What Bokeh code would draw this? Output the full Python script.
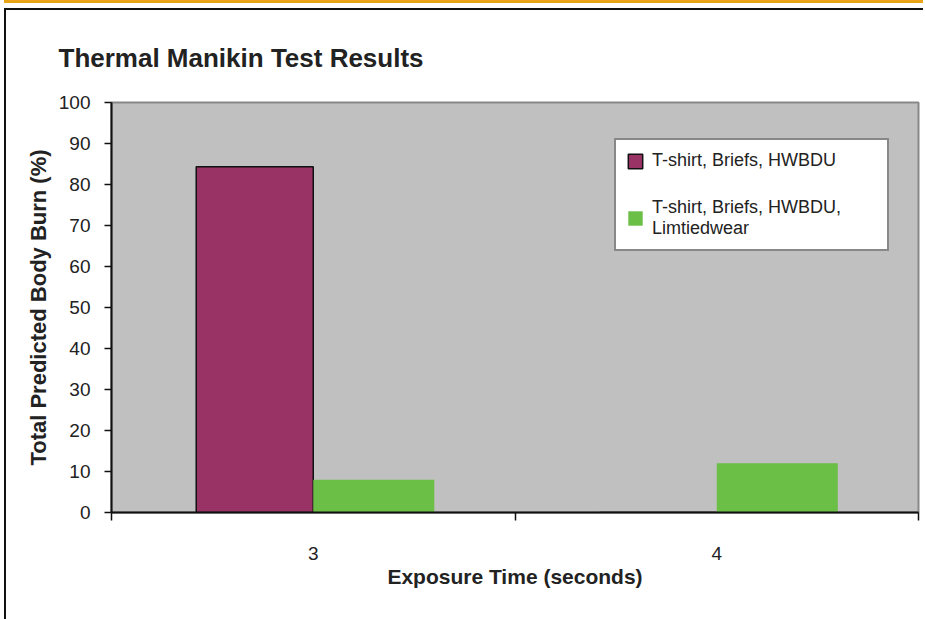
from bokeh.plotting import figure
from bokeh.models import Range1d, FixedTicker, Legend, LegendItem, ColumnDataSource
from bokeh.transform import dodge
from bokeh.embed import file_html
from bokeh.resources import INLINE

# ---- data ----
exposure_times = [3, 4]
series_names = ["T-shirt, Briefs, HWBDU", "T-shirt, Briefs, HWBDU,\nLimtiedwear"]
burn_base = [84.3, 0.0]
burn_limited = [8.0, 12.0]
y_ticks = [0, 10, 20, 30, 40, 50, 60, 70, 80, 90, 100]

FONT = "Liberation Sans"
TXT = "#222222"
W_BASE = 0.29
W_LIM = 0.30

p = figure(width=917, height=609, output_backend="svg", toolbar_location=None,
           x_range=Range1d(2.5, 4.5), y_range=Range1d(0, 100),
           min_border_left=105, min_border_right=7, min_border_top=88, min_border_bottom=109)
p.styles = {"margin-left": "4px", "margin-top": "8px",
            "border-top": "2px solid #111111", "border-left": "2px solid #111111",
            "box-sizing": "content-box",
            "box-shadow": "0 -5px 0 0 #ffffff, 0 -8px 0 0 #E8A317"}

p.background_fill_color = "#C0C0C0"
p.border_fill_color = "white"
p.outline_line_color = "#888888"
p.outline_line_width = 2
p.xgrid.visible = False
p.ygrid.visible = False

src = ColumnDataSource(dict(x=exposure_times, base=burn_base, lim=burn_limited))
r1 = p.vbar(x=dodge("x", -W_BASE / 2, range=p.x_range), top="base", width=W_BASE, source=src,
            fill_color="#993366", line_color="#111111", line_width=1.5)
r2 = p.vbar(x=dodge("x", W_LIM / 2, range=p.x_range), top="lim", width=W_LIM, source=src,
            fill_color="#6BBE46", line_color=None)

# title
p.title.text = "Thermal Manikin Test Results"
p.title.align = "left"
p.title.offset = -53
p.title.standoff = 60
p.title.text_font = FONT
p.title.text_font_size = "26px"
p.title.text_font_style = "bold"
p.title.text_color = TXT

# y axis
ya = p.yaxis[0]
ya.ticker = FixedTicker(ticks=y_ticks)
ya.axis_line_color = "#111111"
ya.axis_line_width = 2
ya.major_tick_line_color = "#111111"
ya.major_tick_line_width = 1.5
ya.major_tick_in = 0
ya.major_tick_out = 7
ya.minor_tick_line_color = None
ya.major_label_standoff = 14
ya.major_label_text_font = FONT
ya.major_label_text_font_size = "19px"
ya.major_label_text_color = TXT
ya.axis_label = "Total Predicted Body Burn (%)"
ya.axis_label_text_font = FONT
ya.axis_label_text_font_size = "22px"
ya.axis_label_text_font_style = "bold"
ya.axis_label_text_color = TXT
ya.axis_label_standoff = 5

# x axis
xa = p.xaxis[0]
xa.ticker = FixedTicker(ticks=exposure_times, minor_ticks=[2.5, 3.5, 4.5])
xa.axis_line_color = "#111111"
xa.axis_line_width = 2
xa.major_tick_line_color = None
xa.major_tick_in = 0
xa.major_tick_out = 0
xa.minor_tick_line_color = "#111111"
xa.minor_tick_line_width = 1.5
xa.minor_tick_in = 0
xa.minor_tick_out = 8
xa.major_label_standoff = 26
xa.major_label_text_font = FONT
xa.major_label_text_font_size = "19px"
xa.major_label_text_color = TXT
xa.axis_label = "Exposure Time (seconds)"
xa.axis_label_text_font = FONT
xa.axis_label_text_font_size = "21px"
xa.axis_label_text_font_style = "bold"
xa.axis_label_text_color = TXT
xa.axis_label_standoff = 2

# legend
legend = Legend(items=[LegendItem(label=series_names[0], renderers=[r1]),
                       LegendItem(label=series_names[1], renderers=[r2])],
                location=(503, 261), orientation="vertical")
legend.background_fill_color = "white"
legend.background_fill_alpha = 1
legend.border_line_color = "#111111"
legend.border_line_width = 2
legend.label_text_font = FONT
legend.label_text_font_size = "18px"
legend.label_text_color = TXT
legend.glyph_width = 18
legend.glyph_height = 18
legend.label_standoff = 8
legend.padding = 10
legend.spacing = 26
legend.margin = 0
legend.label_width = 225
p.add_layout(legend, "center")

open("out.html", "w").write(file_html(p, INLINE))
